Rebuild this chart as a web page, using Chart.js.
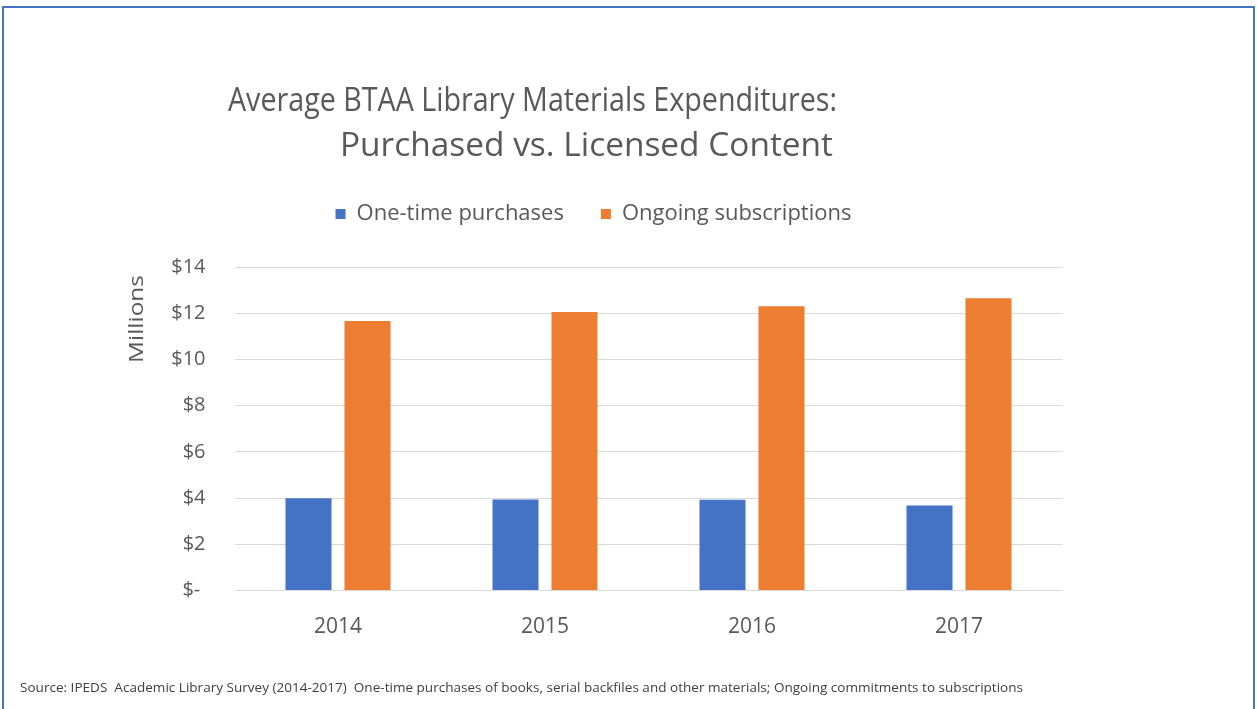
<!DOCTYPE html>
<html>
<head>
<meta charset="utf-8">
<title>Average BTAA Library Materials Expenditures</title>
<script src="https://cdn.jsdelivr.net/npm/chart.js@4.4.1/dist/chart.umd.min.js"></script>
<style>
  html, body { margin: 0; padding: 0; background: #fff; overflow: hidden; }
  #wrap { position: relative; width: 1257px; height: 709px; }
  #frame {
    position: absolute; left: 2px; top: 6px; width: 1253px; height: 760px;
    border: 2px solid #4472c4; box-sizing: border-box; pointer-events: none;
  }
  canvas { position: absolute; left: 0; top: 0; }
</style>
</head>
<body>
<div id="wrap">
  <canvas id="btaaChart" width="1257" height="709"></canvas>
  <div id="frame"></div>
</div>
<script>
// 데이터 (단위: 백만 달러)
const years = ["2014", "2015", "2016", "2017"];
const oneTimePurchases = [3.99, 3.94, 3.93, 3.68];
const ongoingSubscriptions = [11.66, 12.05, 12.30, 12.65];
const yTickValues = [0, 2, 4, 6, 8, 10, 12, 14];
const yTickLabels = ["$- ", "$2", "$4", "$6", "$8", "$10", "$12", "$14"];

const titleLines = ["Average BTAA Library Materials Expenditures:", "Purchased vs. Licensed Content"];
const yAxisTitle = "Millions";
const sourceNote = "Source: IPEDS  Academic Library Survey (2014-2017)  One-time purchases of books, serial backfiles and other materials; Ongoing commitments to subscriptions";

const FONT = "'Open Sans', 'DejaVu Sans', sans-serif";
const GREY = "#595959";

// 글자를 주어진 폭(left~right)에 맞춰 가로로 늘리거나 줄여서 그림
function fitText(ctx, text, left, right, y) {
  const w = ctx.measureText(text).width;
  ctx.save();
  ctx.translate(left, y);
  ctx.scale((right - left) / w, 1);
  ctx.textAlign = "left";
  ctx.fillText(text, 0, 0);
  ctx.restore();
}

// 제목 · 축 제목 · 출처
const textPlugin = {
  id: "btaaText",
  afterDraw(chart) {
    const ctx = chart.ctx;
    ctx.save();
    ctx.fillStyle = GREY;
    ctx.textBaseline = "alphabetic";
    ctx.font = "32px " + FONT;
    fitText(ctx, titleLines[0], 228, 837, 111);
    fitText(ctx, titleLines[1], 340, 833, 156);

    ctx.save();
    ctx.translate(143, 363);
    ctx.rotate(-Math.PI / 2);
    ctx.font = "20px " + FONT;
    fitText(ctx, yAxisTitle, 0, 88, 0);
    ctx.restore();

    ctx.fillStyle = "#404040";
    ctx.textBaseline = "middle";
    ctx.font = "13px " + FONT;
    fitText(ctx, sourceNote, 20, 1023, 688);
    ctx.restore();
  },
};

const ctx = document.getElementById("btaaChart").getContext("2d");
new Chart(ctx, {
  type: "bar",
  data: {
    labels: years,
    datasets: [
      {
        label: "One-time purchases",
        data: oneTimePurchases,
        backgroundColor: "#4472c4",
        categoryPercentage: 0.57,
        barPercentage: 0.78,
      },
      {
        label: "Ongoing subscriptions",
        data: ongoingSubscriptions,
        backgroundColor: "#ed7d31",
        categoryPercentage: 0.57,
        barPercentage: 0.78,
      },
    ],
  },
  options: {
    responsive: false,
    animation: false,
    devicePixelRatio: 1,
    layout: { padding: { left: 124.5, right: 194.5, top: 166, bottom: 58.5 } },
    plugins: {
      legend: {
        position: "top",
        labels: {
          boxWidth: 10,
          boxHeight: 10,
          padding: 37,
          color: GREY,
          font: { family: FONT, size: 22 },
        },
      },
      // 범례와 그림 영역 사이 여백
      subtitle: {
        display: true,
        text: "",
        weight: 500,
        font: { size: 10 },
        padding: { top: 0, bottom: 20 },
      },
      tooltip: { enabled: false },
    },
    scales: {
      x: {
        grid: { display: false, drawTicks: false },
        border: { display: false },
        ticks: { color: GREY, padding: 24, font: { family: FONT, size: 21 } },
        afterFit(scale) { scale.height = 60; },
      },
      y: {
        min: 0,
        max: 14,
        grid: { color: "#d9d9d9", lineWidth: 1, drawTicks: false },
        border: { display: false },
        afterBuildTicks(scale) {
          scale.ticks = yTickValues.map((v) => ({ value: v }));
        },
        ticks: {
          color: GREY,
          padding: 29,
          font: { family: FONT, size: 20 },
          callback: (value) => {
            const i = yTickValues.indexOf(value);
            return i >= 0 ? yTickLabels[i] : "";
          },
        },
        afterFit(scale) { scale.width = 110; },
      },
    },
  },
  plugins: [textPlugin],
});
</script>
</body>
</html>
